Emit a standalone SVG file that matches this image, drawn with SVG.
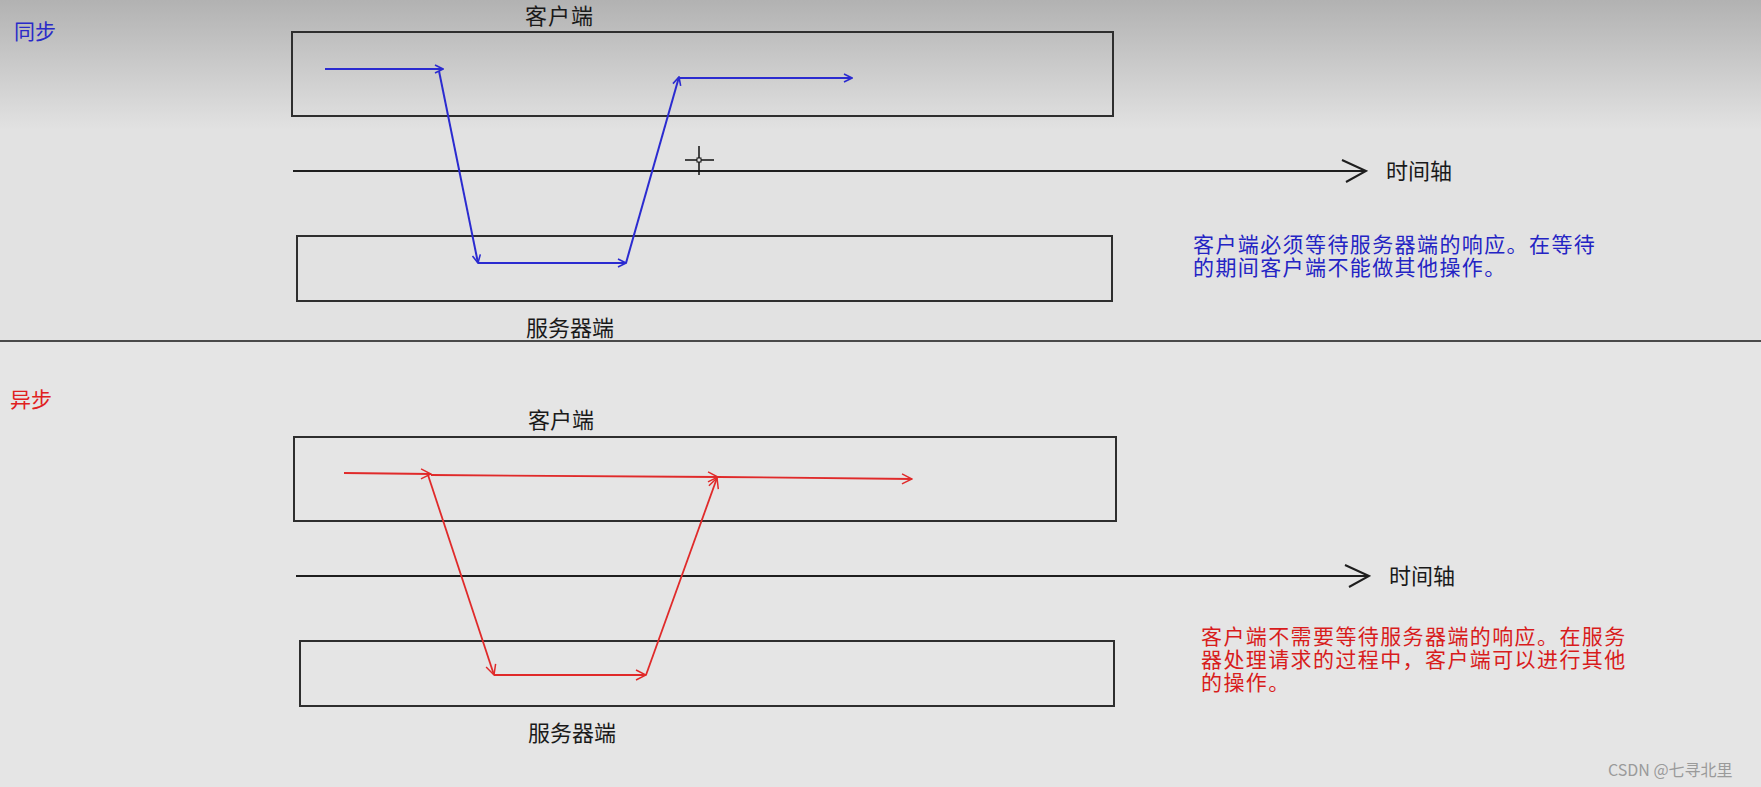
<svg xmlns="http://www.w3.org/2000/svg" width="1761" height="787" viewBox="0 0 1761 787">
<style>
  .lbl { font-family: "Noto Sans CJK SC", "Noto Sans", sans-serif; font-size: 22px; fill: #1a1a1a; }
  .box { fill: none; stroke: #2e2e2e; stroke-width: 2; }
  .axis { fill: none; stroke: #1e1e1e; stroke-width: 2; }
  .blue { fill: none; stroke: #2b2bd0; stroke-width: 2; }
  .red { fill: none; stroke: #e02a2a; stroke-width: 1.8; }
  .btxt { font-family: "Noto Sans CJK SC", "Noto Sans", sans-serif; font-size: 21px; letter-spacing: 1.4px; fill: #2424c4; }
  .rtxt { font-family: "Noto Sans CJK SC", "Noto Sans", sans-serif; font-size: 21px; letter-spacing: 1.4px; fill: #d81c1c; }
</style>
<defs>
  <linearGradient id="bg" x1="0" y1="0" x2="0" y2="1">
    <stop offset="0" stop-color="#b2b2b2"/>
    <stop offset="1" stop-color="#e2e2e2"/>
  </linearGradient>
  <marker id="ab" markerUnits="userSpaceOnUse" markerWidth="10" markerHeight="10" viewBox="0 0 10 10" refX="9" refY="5" orient="auto">
    <path d="M1,1 L9,5 L1,9" fill="none" stroke="#2b2bd0" stroke-width="1.6"/>
  </marker>
  <marker id="ar" markerUnits="userSpaceOnUse" markerWidth="12" markerHeight="12" viewBox="0 0 12 12" refX="11" refY="6" orient="auto">
    <path d="M1,1 L11,6 L1,11" fill="none" stroke="#e02a2a" stroke-width="1.5"/>
  </marker>
  <marker id="ak" markerUnits="userSpaceOnUse" markerWidth="28" markerHeight="26" viewBox="0 0 28 26" refX="26" refY="13" orient="auto">
    <path d="M2,2 L26,13 L6,24" fill="none" stroke="#1e1e1e" stroke-width="2"/>
  </marker>
</defs>

<rect x="0" y="0" width="1761" height="130" fill="url(#bg)"/>
<rect x="0" y="130" width="1761" height="212" fill="#e2e2e2"/>
<rect x="0" y="342" width="1761" height="445" fill="#e5e5e5"/>
<line x1="0" y1="341" x2="1761" y2="341" stroke="#4a4a4a" stroke-width="2"/>

<!-- Section 1: synchronous -->
<g id="title-sync"><text x="14" y="39" font-family="Noto Sans CJK SC, sans-serif" font-size="21" fill="#2a2ac8">同步</text></g>
<g id="client-sync">
  <rect class="box" x="292" y="32" width="821" height="84"/>
  <text class="lbl" x="525" y="24" font-size="21" letter-spacing="1">客户端</text>
</g>
<g id="server-sync">
  <rect class="box" x="297" y="236" width="815" height="65"/>
  <text class="lbl" x="526" y="335.5">服务器端</text>
</g>
<g id="axis-sync">
  <line class="axis" x1="293" y1="171" x2="1366" y2="171" marker-end="url(#ak)"/>
  <text class="lbl" x="1386" y="178.5">时间轴</text>
</g>
<g id="note-sync">
  <text class="btxt"><tspan x="1193" y="252">客户端必须等待服务器端的响应。在等待</tspan><tspan x="1193" y="275">的期间客户端不能做其他操作。</tspan></text>
</g>
<g id="cursor">
  <line x1="685" y1="160" x2="714" y2="160" stroke="#111" stroke-width="1.5"/>
  <line x1="699" y1="146" x2="699" y2="175" stroke="#111" stroke-width="1.5"/>
  <rect x="697" y="158" width="4" height="4" fill="#e2e2e2" stroke="#111" stroke-width="1"/>
</g>
<g id="connectors-sync">
  <line class="blue" x1="325" y1="69" x2="443" y2="69" marker-end="url(#ab)"/>
  <line class="blue" x1="439" y1="71" x2="478" y2="263" marker-end="url(#ab)"/>
  <line class="blue" x1="478" y1="263" x2="626" y2="263" marker-end="url(#ab)"/>
  <line class="blue" x1="626" y1="263" x2="679" y2="77" marker-end="url(#ab)"/>
  <line class="blue" x1="679" y1="78" x2="852" y2="78" marker-end="url(#ab)"/>
</g>

<!-- Section 2: asynchronous -->
<g id="title-async"><text x="10" y="407" font-family="Noto Sans CJK SC, sans-serif" font-size="21" fill="#e02020">异步</text></g>
<g id="client-async">
  <rect class="box" x="294" y="437" width="822" height="84"/>
  <text class="lbl" x="528" y="427.5">客户端</text>
</g>
<g id="server-async">
  <rect class="box" x="300" y="641" width="814" height="65"/>
  <text class="lbl" x="528" y="741">服务器端</text>
</g>
<g id="axis-async">
  <line class="axis" x1="296" y1="576" x2="1369" y2="576" marker-end="url(#ak)"/>
  <text class="lbl" x="1389" y="583.5">时间轴</text>
</g>
<g id="note-async">
  <text class="rtxt"><tspan x="1201" y="644">客户端不需要等待服务器端的响应。在服务</tspan><tspan x="1201" y="667">器处理请求的过程中，客户端可以进行其他</tspan><tspan x="1201" y="690">的操作。</tspan></text>
</g>
<g id="connectors-async">
  <line class="red" x1="344" y1="473" x2="431" y2="474" marker-end="url(#ar)"/>
  <line class="red" x1="431" y1="475" x2="718" y2="477" marker-end="url(#ar)"/>
  <line class="red" x1="718" y1="477" x2="912" y2="479" marker-end="url(#ar)"/>
  <line class="red" x1="428" y1="475" x2="494" y2="675" marker-end="url(#ar)"/>
  <line class="red" x1="494" y1="675" x2="646" y2="675" marker-end="url(#ar)"/>
  <line class="red" x1="646" y1="675" x2="717" y2="478" marker-end="url(#ar)"/>
</g>

<g id="watermark"><text x="1608" y="776" font-family="Noto Sans CJK SC, sans-serif" font-size="16" fill="#9a9a9a">CSDN @七寻北里</text></g>
</svg>
